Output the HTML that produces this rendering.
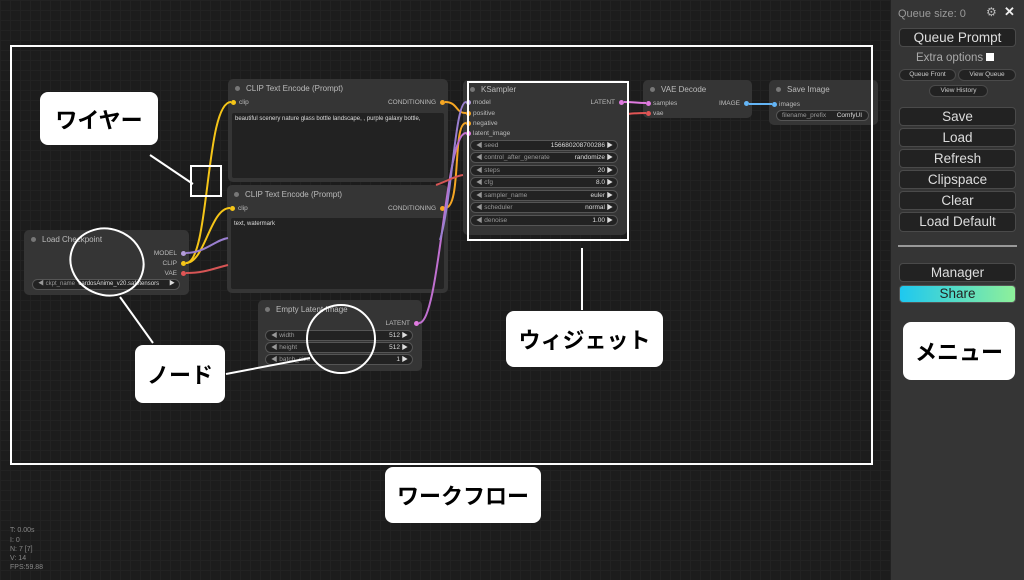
<!DOCTYPE html>
<html><head><meta charset="utf-8"><style>
*{box-sizing:border-box;margin:0;padding:0}
body{width:1024px;height:580px;overflow:hidden;background:#1e1e1e;font-family:"Liberation Sans","Noto Sans CJK JP",sans-serif;position:relative}
#cv{position:absolute;left:0;top:0;width:891px;height:580px;background-color:#1c1c1c;background-image:linear-gradient(#222 1px,transparent 1px),linear-gradient(90deg,#222 1px,transparent 1px);background-size:10px 10px}
.a{position:absolute}
.node{position:absolute;background:#353535;border-radius:5px;color:#aaa;font-size:7px}
.tt{position:absolute;left:18px;top:5px;font-size:8px;color:#bbb}
.dot{position:absolute;left:7px;top:7px;width:5px;height:5px;border-radius:50%;background:#777}
.s{position:absolute;font-size:6.5px;color:#bbb}
.p{position:absolute;width:5px;height:5px;border-radius:50%}
.ta{position:absolute;background:#222;border-radius:2px;font-size:6px;color:#ddd;padding:3px}
.w{position:absolute;height:11px;background:#222;border:1px solid #555;border-radius:6px;font-size:6.5px;color:#999;line-height:9px;padding:0 5px;overflow:hidden;white-space:nowrap}
.w b{position:absolute;right:12px;color:#ddd;font-weight:normal}
.w i{position:absolute;right:4px;font-style:normal;color:#ddd}
.lbl{position:absolute;background:#fff;border-radius:8px;color:#000;font-weight:bold;font-size:22px;display:flex;align-items:center;justify-content:center}
#sb{position:absolute;left:891px;top:0;width:133px;height:580px;background:#353535}
.bt{position:absolute;left:8px;width:117px;background:#222;border:1px solid #4a4a4a;border-radius:4px;color:#ddd;font-size:13.5px;text-align:center}
.sm{position:absolute;background:#222;border:1px solid #4a4a4a;border-radius:6px;color:#ccc;font-size:6.5px;text-align:center;line-height:10px}
.st{position:absolute;left:10px;font-size:7px;color:#888}
</style></head><body>
<div id="cv"></div>

<div class="node" style="left:228px;top:79px;width:220px;height:103px"><div class="dot"></div><div class="tt">CLIP Text Encode (Prompt)</div>
<div class="p" style="left:3px;top:21px;background:#f5c518"></div><div class="s" style="left:11px;top:20px">clip</div>
<div class="s" style="right:12px;top:20px">CONDITIONING</div><div class="p" style="right:3px;top:21px;background:#f5a623"></div>
<div class="ta" style="left:4px;top:34px;width:212px;height:65px">beautiful scenery nature glass bottle landscape, , purple galaxy bottle,</div></div>
<div class="node" style="left:227px;top:185px;width:221px;height:108px"><div class="dot"></div><div class="tt">CLIP Text Encode (Prompt)</div>
<div class="p" style="left:3px;top:21px;background:#f5c518"></div><div class="s" style="left:11px;top:20px">clip</div>
<div class="s" style="right:12px;top:20px">CONDITIONING</div><div class="p" style="right:3px;top:21px;background:#f5a623"></div>
<div class="ta" style="left:4px;top:33px;width:213px;height:71px">text, watermark</div></div>
<div class="node" style="left:463px;top:80px;width:164px;height:155px"><div class="dot"></div><div class="tt">KSampler</div>
<div class="p" style="left:3px;top:20px;background:#b39ddb"></div><div class="s" style="left:10px;top:19px">model</div>
<div class="p" style="left:3px;top:31px;background:#f5a623"></div><div class="s" style="left:10px;top:30px">positive</div>
<div class="p" style="left:3px;top:41px;background:#f5a623"></div><div class="s" style="left:10px;top:40px">negative</div>
<div class="p" style="left:3px;top:51px;background:#e07be0"></div><div class="s" style="left:10px;top:50px">latent_image</div>
<div class="s" style="right:12px;top:19px">LATENT</div><div class="p" style="right:3px;top:20px;background:#e07be0"></div>
<div class="w" style="left:7px;top:60px;width:148px">◀ seed<b>156680208700286</b><i>▶</i></div>
<div class="w" style="left:7px;top:72px;width:148px">◀ control_after_generate<b>randomize</b><i>▶</i></div>
<div class="w" style="left:7px;top:85px;width:148px">◀ steps<b>20</b><i>▶</i></div>
<div class="w" style="left:7px;top:97px;width:148px">◀ cfg<b>8.0</b><i>▶</i></div>
<div class="w" style="left:7px;top:110px;width:148px">◀ sampler_name<b>euler</b><i>▶</i></div>
<div class="w" style="left:7px;top:122px;width:148px">◀ scheduler<b>normal</b><i>▶</i></div>
<div class="w" style="left:7px;top:135px;width:148px">◀ denoise<b>1.00</b><i>▶</i></div></div>
<div class="node" style="left:643px;top:80px;width:109px;height:38px"><div class="dot"></div><div class="tt">VAE Decode</div>
<div class="p" style="left:3px;top:21px;background:#e07be0"></div><div class="s" style="left:10px;top:20px">samples</div>
<div class="p" style="left:3px;top:31px;background:#e05555"></div><div class="s" style="left:10px;top:30px">vae</div>
<div class="s" style="right:12px;top:20px">IMAGE</div><div class="p" style="right:3px;top:21px;background:#64b5f6"></div></div>
<div class="node" style="left:769px;top:80px;width:109px;height:45px"><div class="dot"></div><div class="tt">Save Image</div>
<div class="p" style="left:3px;top:22px;background:#64b5f6"></div><div class="s" style="left:10px;top:21px">images</div>
<div class="w" style="left:7px;top:30px;width:93px">filename_prefix<b style="right:6px">ComfyUI</b></div></div>
<div class="node" style="left:24px;top:230px;width:165px;height:65px"><div class="dot"></div><div class="tt">Load Checkpoint</div>
<div class="s" style="right:12px;top:20px">MODEL</div><div class="p" style="right:3px;top:21px;background:#b39ddb"></div>
<div class="s" style="right:12px;top:30px">CLIP</div><div class="p" style="right:3px;top:31px;background:#f5c518"></div>
<div class="s" style="right:12px;top:40px">VAE</div><div class="p" style="right:3px;top:41px;background:#e05555"></div>
<div class="w" style="left:8px;top:49px;width:148px;font-size:6px">◀ ckpt_name&nbsp; <span style="color:#ddd">cardosAnime_v20.safetensors</span><i>▶</i></div></div>
<div class="node" style="left:258px;top:300px;width:164px;height:71px"><div class="dot"></div><div class="tt">Empty Latent Image</div>
<div class="s" style="right:12px;top:20px">LATENT</div><div class="p" style="right:3px;top:21px;background:#e07be0"></div>
<div class="w" style="left:7px;top:30px;width:148px">◀ width<b>512</b><i>▶</i></div>
<div class="w" style="left:7px;top:42px;width:148px">◀ height<b>512</b><i>▶</i></div>
<div class="w" style="left:7px;top:54px;width:148px">◀ batch_size<b>1</b><i>▶</i></div></div>

<svg class="a" style="left:0;top:0" width="891" height="580">
<g fill="none" stroke-width="2">
<path d="M186 263 C210 263 205 102 231 102" stroke="#f5c518"/>
<path d="M186 263 C205 263 210 208 230 208" stroke="#f5c518"/>
<path d="M186 253 C205 253 215 240 228 238" stroke="#9a7fd0"/>
<path d="M186 273 C205 273 215 268 228 265" stroke="#d65555"/>
<path d="M445 102 C458 102 455 113 466 113" stroke="#f5a623"/>
<path d="M445 208 C462 208 452 123 466 123" stroke="#f5a623"/>
<path d="M419 323 C440 323 445 133 466 133" stroke="#c070d0"/>
<path d="M440 240 C452 200 455 102 466 102" stroke="#9a7fd0"/>
<path d="M436 185 C450 180 455 176 463 175" stroke="#d65555"/>
<path d="M624 102 C635 102 636 103 646 103" stroke="#e07be0"/>
<path d="M628 114 C636 113 638 113 646 113" stroke="#e05555"/>
<path d="M749 104 C760 104 762 104 772 104" stroke="#64b5f6"/>
</g>
<rect x="11" y="46" width="861" height="418" fill="none" stroke="#fff" stroke-width="2"/>
<rect x="468" y="82" width="160" height="158" fill="none" stroke="#fff" stroke-width="2"/>
<rect x="191" y="166" width="30" height="30" fill="none" stroke="#fff" stroke-width="2"/>
<line x1="150" y1="155" x2="193" y2="184" stroke="#fff" stroke-width="2"/>
<ellipse cx="107" cy="262" rx="37" ry="33" transform="rotate(20 107 262)" fill="none" stroke="#fff" stroke-width="2"/>
<line x1="120" y1="297" x2="153" y2="343" stroke="#fff" stroke-width="2"/>
<circle cx="341" cy="339" r="34" fill="none" stroke="#fff" stroke-width="2"/>
<line x1="226" y1="374" x2="310" y2="358" stroke="#fff" stroke-width="2"/>
<line x1="582" y1="248" x2="582" y2="310" stroke="#fff" stroke-width="2"/>
</svg>

<div class="lbl" style="left:40px;top:92px;width:118px;height:53px">ワイヤー</div>
<div class="lbl" style="left:135px;top:345px;width:90px;height:58px">ノード</div>
<div class="lbl" style="left:506px;top:311px;width:157px;height:56px">ウィジェット</div>
<div class="lbl" style="left:385px;top:467px;width:156px;height:56px">ワークフロー</div>

<div class="st" style="top:527px">T: 0.00s</div>
<div class="st" style="top:537px">I: 0</div>
<div class="st" style="top:546px">N: 7 [7]</div>
<div class="st" style="top:555px">V: 14</div>
<div class="st" style="top:564px">FPS:59.88</div>

<div id="sb">
<div class="a" style="left:7px;top:8px;font-size:11px;color:#999">Queue size: 0</div>
<div class="a" style="left:95px;top:5px;font-size:12px;color:#bbb">⚙</div>
<div class="a" style="left:113px;top:4px;font-size:13px;color:#eee;font-weight:bold">✕</div>
<div class="bt" style="top:28px;height:19px;line-height:17px">Queue Prompt</div>
<div class="a" style="left:25px;top:52px;font-size:11.5px;color:#aaa">Extra options <span style="display:inline-block;width:8px;height:8px;background:#fff;vertical-align:0"></span></div>
<div class="sm" style="left:8px;top:69px;width:57px;height:12px">Queue Front</div>
<div class="sm" style="left:67px;top:69px;width:58px;height:12px">View Queue</div>
<div class="sm" style="left:38px;top:85px;width:59px;height:12px">View History</div>
<div class="bt" style="top:107px;height:19px;line-height:17px">Save</div>
<div class="bt" style="top:128px;height:19px;line-height:17px">Load</div>
<div class="bt" style="top:149px;height:19px;line-height:17px">Refresh</div>
<div class="bt" style="top:170px;height:19px;line-height:17px">Clipspace</div>
<div class="bt" style="top:191px;height:19px;line-height:17px">Clear</div>
<div class="bt" style="top:212px;height:20px;line-height:18px">Load Default</div>
<div class="a" style="left:7px;top:245px;width:119px;height:2px;background:#999"></div>
<div class="bt" style="top:263px;height:19px;line-height:17px">Manager</div>
<div class="bt" style="top:285px;height:18px;line-height:16px;background:linear-gradient(90deg,#1ec8f0,#8ef09a);color:#222;border-color:#555">Share</div>
<div class="lbl" style="left:12px;top:322px;width:112px;height:58px">メニュー</div>
</div>
</body></html>
